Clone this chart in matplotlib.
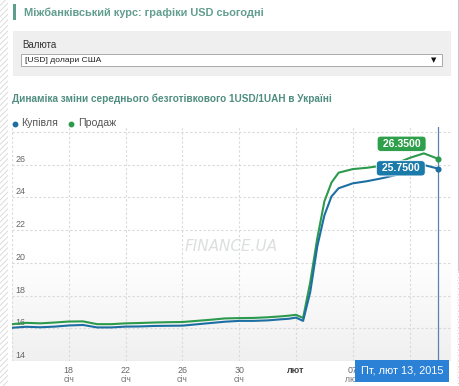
import matplotlib
matplotlib.use("Agg")
import matplotlib.pyplot as plt
import matplotlib.dates as mdates
import matplotlib.transforms as mtrans
from matplotlib.patches import Rectangle
from matplotlib.colors import LinearSegmentedColormap
import numpy as np
import pandas as pd

plt.rcParams['font.family'] = ['Liberation Sans', 'DejaVu Sans']
plt.rcParams['hatch.linewidth'] = 0.6

# ---------------- data ----------------
dates = ["2015-01-14 00:00", "2015-01-15 00:00", "2015-01-16 00:00", "2015-01-17 00:00",
         "2015-01-18 00:00", "2015-01-19 00:00", "2015-01-20 00:00", "2015-01-21 00:00",
         "2015-01-22 00:00", "2015-01-23 00:00", "2015-01-24 00:00", "2015-01-25 00:00",
         "2015-01-26 00:00", "2015-01-27 00:00", "2015-01-28 00:00", "2015-01-29 00:00",
         "2015-01-30 00:00", "2015-01-31 00:00", "2015-02-01 00:00", "2015-02-02 00:00",
         "2015-02-02 12:00", "2015-02-03 00:00", "2015-02-03 12:00", "2015-02-04 00:00",
         "2015-02-04 12:00", "2015-02-05 00:00", "2015-02-05 12:00", "2015-02-06 00:00",
         "2015-02-07 00:00", "2015-02-08 00:00", "2015-02-09 00:00", "2015-02-10 00:00",
         "2015-02-11 00:00", "2015-02-12 00:00", "2015-02-13 00:00"]
buy = [16.03, 16.09, 16.06, 16.10, 16.17, 16.20, 16.05, 16.05, 16.10, 16.11,
       16.14, 16.15, 16.16, 16.24, 16.32, 16.40, 16.45, 16.45, 16.48, 16.55,
       16.58, 16.65, 16.45, 18.2, 21.0, 22.9, 24.05, 24.55, 24.85, 24.98,
       25.15, 25.35, 25.6, 25.97, 25.75]
sell = [16.25, 16.33, 16.30, 16.35, 16.41, 16.42, 16.25, 16.25, 16.30, 16.32,
        16.35, 16.37, 16.38, 16.45, 16.52, 16.60, 16.62, 16.63, 16.67, 16.73,
        16.77, 16.82, 16.63, 18.8, 21.5, 23.75, 24.9, 25.5, 25.72, 25.8,
        25.92, 26.05, 26.4, 26.68, 26.35]
buy_label = "25.7500"
sell_label = "26.3500"
series_names = ["Купівля", "Продаж"]
y_ticks = [14, 16, 18, 20, 22, 24, 26, 28]
x_tick_dates = ["2015-01-14", "2015-01-18", "2015-01-22", "2015-01-26", "2015-01-30",
                "2015-02-03", "2015-02-07", "2015-02-11"]
x_tick_day = ["14", "18", "22", "26", "30", "", "07", "11"]
x_tick_month = ["січ", "січ", "січ", "січ", "січ", "лют", "лют", "лют"]
tooltip_text = "Пт, лют 13, 2015"

x = pd.to_datetime(dates, format="%Y-%m-%d %H:%M")

W, H = 460, 386
fig = plt.figure(figsize=(W / 100, H / 100), dpi=100)
fig.patch.set_facecolor("white")
# pixel transform (origin top-left)
PX = mtrans.Affine2D().scale(1 / 100, -1 / 100).translate(0, H / 100) + fig.dpi_scale_trans

# left hatched stripe
fig.patches.append(Rectangle((0, 0), 8, H, transform=PX, facecolor="white",
                             edgecolor="#d6d6d6", hatch="//////", linewidth=0))
# right border and hatch
fig.patches.append(Rectangle((457, 270), 3, H - 270, transform=PX, facecolor="white",
                             edgecolor="#d6d6d6", hatch="......", linewidth=0))
fig.lines.append(plt.Line2D([457.5, 457.5], [0, 270], transform=PX, color="#c8c8c8", lw=0.8))

# header
fig.patches.append(Rectangle((12.5, 4), 3, 16, transform=PX, facecolor="#5e9e8e", lw=0))
fig.text(24, 12.5, "Міжбанківський курс: графіки USD сьогодні", transform=PX,
         fontsize=7.9, fontweight="bold", color="#629e90", va="center", ha="left")
fig.patches.append(Rectangle((12.5, 30.5), 438, 45, transform=PX, facecolor="#efefef", lw=0))
fig.text(22.5, 44.5, "Валюта", transform=PX, fontsize=7.0, color="#333333",
         va="center", ha="left")
fig.patches.append(Rectangle((20.5, 53.5), 421, 12.5, transform=PX, facecolor="white",
                             edgecolor="#a9a9a9", lw=0.7))
fig.text(25, 60, "[USD] долари США", transform=PX, fontsize=6.1, color="#222222",
         va="center", ha="left")
fig.text(434, 60, "▼", transform=PX, fontsize=5, color="#111111",
         va="center", ha="center", family=["DejaVu Sans"])

fig.text(12.5, 99, "Динаміка зміни середнього безготівкового 1USD/1UAH в Україні",
         transform=PX, fontsize=7.2, fontweight="bold", color="#4f8e80",
         va="center", ha="left")

blue = "#1d6fa3"
green = "#2c9a4c"

# legend
fig.lines.append(plt.Line2D([15], [123.5], transform=PX, marker="o", ms=3.2,
                            color=blue, lw=0))
fig.text(21.5, 123.5, series_names[0], transform=PX, fontsize=7.6, color="#555555",
         va="center", ha="left")
fig.lines.append(plt.Line2D([71], [123.5], transform=PX, marker="o", ms=3.2,
                            color=green, lw=0))
fig.text(78, 123.5, series_names[1], transform=PX, fontsize=7.6, color="#555555",
         va="center", ha="left")

# axes
ax_left, ax_right, ax_top, ax_bottom = 12, 451, 127, 361
ax = fig.add_axes([ax_left / W, 1 - ax_bottom / H, (ax_right - ax_left) / W,
                   (ax_bottom - ax_top) / H])
x0 = pd.Timestamp("2015-01-14")
ax.set_xlim(mdates.date2num(x0), mdates.date2num(x0) + (ax_right - ax_left) / 14.2)
ax.set_ylim(14, 14 + (ax_bottom - ax_top) / 16.375)

# background gradient
grad = np.linspace(0, 1, 256).reshape(-1, 1)
grad = np.clip(grad / 0.45, 0, 1)
cmap = LinearSegmentedColormap.from_list("g", ["#f0f0f0", "#ffffff"])
ax.imshow(grad, extent=[0, 1, 0, 1], transform=ax.transAxes, cmap=cmap,
          aspect="auto", origin="lower", zorder=0)
ax.set_facecolor("white")

for s in ax.spines.values():
    s.set_visible(False)
ax.set_xticks([])
ax.set_yticks([])

for v in y_ticks:
    ax.axhline(v, color="#d9d9d9", lw=0.8, ls=(0, (2, 2)), zorder=1)
ax.axhline(14, color="#d0d0d0", lw=0.8, zorder=1)
xt = pd.to_datetime(x_tick_dates, format="%Y-%m-%d")
for d in xt:
    ax.axvline(mdates.date2num(d), color="#d9d9d9", lw=0.8, ls=(0, (2, 2)), zorder=1)

# y tick labels
ylab_tr = mtrans.blended_transform_factory(PX, ax.transData)
for v in y_ticks[:-1]:
    ax.annotate(str(v), xy=(15.5, v), xycoords=ylab_tr, xytext=(0, 3.8),
                textcoords="offset points", ha="left", va="center",
                fontsize=6.4, color="#666666", annotation_clip=False)

# x tick labels (the first is clipped by the plot edge and the last hidden by the tooltip)
xlab_tr = mtrans.blended_transform_factory(ax.transData, PX)
for d, dd, mm in zip(xt[1:-1], x_tick_day[1:-1], x_tick_month[1:-1]):
    xn = mdates.date2num(d)
    if dd:
        fig.text(xn, 370.5, dd, transform=xlab_tr, ha="center", va="center",
                 fontsize=6.4, color="#666666")
        fig.text(xn, 380, mm, transform=xlab_tr, ha="center", va="center",
                 fontsize=6.2, color="#777777")
    else:
        fig.text(xn, 370.5, mm, transform=xlab_tr, ha="center", va="center",
                 fontsize=6.4, color="#444444", fontweight="bold")

# watermark
ax.text(0.50, 1 - (246.5 - ax_top) / (ax_bottom - ax_top), "FINANCE.UA",
        transform=ax.transAxes, ha="center", va="center", fontsize=11,
        style="italic", color="#dcdfdf", family=["DejaVu Sans"], zorder=1)

# lines
ax.plot(x, sell, color=green, lw=1.5, zorder=3, solid_joinstyle="round")
ax.plot(x, buy, color=blue, lw=1.5, zorder=4, solid_joinstyle="round")
ax.plot(x[-1:], sell[-1:], "o", color=green, ms=3.4, zorder=5)
ax.plot(x[-1:], buy[-1:], "o", color=blue, ms=3.4, zorder=5)

# crosshair
ax.axvline(mdates.date2num(x[-1]), color="#5a84ad", lw=0.9, zorder=2)

# value labels
ax.annotate(" " + sell_label + " ", xy=(x[-1], sell[-1]), xytext=(-26.2, 10.8),
            textcoords="offset points", ha="center", va="center", fontsize=7.6,
            fontweight="bold", color="white", zorder=6,
            bbox=dict(boxstyle="round,pad=0.25,rounding_size=0.35", fc="#2e9f4b",
                      ec="white", lw=0.6))
ax.annotate(" " + buy_label + " ", xy=(x[-1], buy[-1]), xytext=(-26.8, 0.2),
            textcoords="offset points", ha="center", va="center", fontsize=7.6,
            fontweight="bold", color="white", zorder=6,
            bbox=dict(boxstyle="round,pad=0.25,rounding_size=0.35", fc="#1a7aaa",
                      ec="white", lw=0.6))

# tooltip
fig.patches.append(Rectangle((355, 359.5), 94, 22, transform=PX, facecolor="#2b81d6",
                             edgecolor="#2b81d6", lw=0, zorder=10))
fig.text(402, 370.5, tooltip_text, transform=PX, ha="center", va="center",
         fontsize=7.8, color="white", zorder=11)

fig.savefig("out.png", dpi=100)
